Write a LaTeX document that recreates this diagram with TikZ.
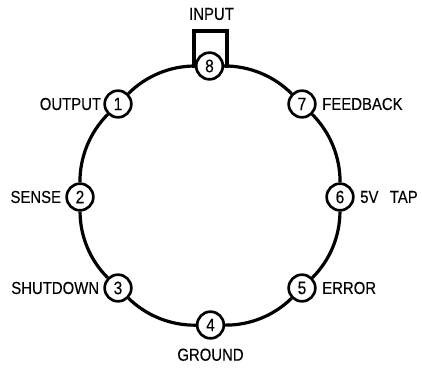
\documentclass[tikz,border=0pt]{standalone}
\usepackage{fontspec}
\setmainfont[FakeStretch=0.86, FakeBold=0.15]{Liberation Sans}
\usetikzlibrary{positioning}
\tikzset{
	pinnode/.style={draw, circle, line width=2pt, minimum size=20pt, inner sep=0pt, font=\fontsize{13.5}{13.5}\selectfont},
	pinlabel/.style={inner sep=0pt, font=\fontsize{13}{13}\selectfont},
	ring/.style={line width=2.4pt, bend right=22.5, looseness=0.885}
}

\begin{document}
\begin{tikzpicture}[x=0.75pt, y=0.75pt, node distance=3pt]
	\useasboundingbox (0,0) rectangle (422,368);

	\node[pinnode] (pin8) at (209.5,302) {8};
	\node[pinnode] (pin1) at (118,264) {1};
	\node[pinnode] (pin2) at (80,171) {2};
	\node[pinnode] (pin3) at (118,80) {3};
	\node[pinnode] (pin4) at (210.5,43) {4};
	\node[pinnode] (pin5) at (302,80) {5};
	\node[pinnode] (pin6) at (340,171) {6};
	\node[pinnode] (pin7) at (302,264) {7};

	\draw[ring] (pin8) to (pin1);
	\draw[ring] (pin1) to (pin2);
	\draw[ring] (pin2) to (pin3);
	\draw[ring] (pin3) to (pin4);
	\draw[ring] (pin4) to (pin5);
	\draw[ring] (pin5) to (pin6);
	\draw[ring] (pin6) to (pin7);
	\draw[ring] (pin7) to (pin8);

	\coordinate (loop-l) at (193.5,300);
	\coordinate (loop-r) at (226.5,300);
	\draw[line width=3pt, line join=miter] (loop-l) -- (193.5,337) -- (226.5,337) -- (loop-r);

	\node[pinlabel] (l8) at (211.5,354) {INPUT};
	\node[pinlabel, left=1.5pt of pin1] (l1) {OUTPUT};
	\node[pinlabel, left=3pt of pin2] (l2) {SENSE};
	\node[pinlabel, left=3pt of pin3] (l3) {SHUTDOWN};
	\node[pinlabel, below=6.5pt of pin4] (l4) {GROUND};
	\node[pinlabel, right=4pt of pin5] (l5) {ERROR};
	\node[pinlabel, right=4pt of pin6] (l6) {\spaceskip=8.5pt 5V TAP};
	\node[pinlabel, right=4pt of pin7] (l7) {FEEDBACK};
\end{tikzpicture}
\end{document}
